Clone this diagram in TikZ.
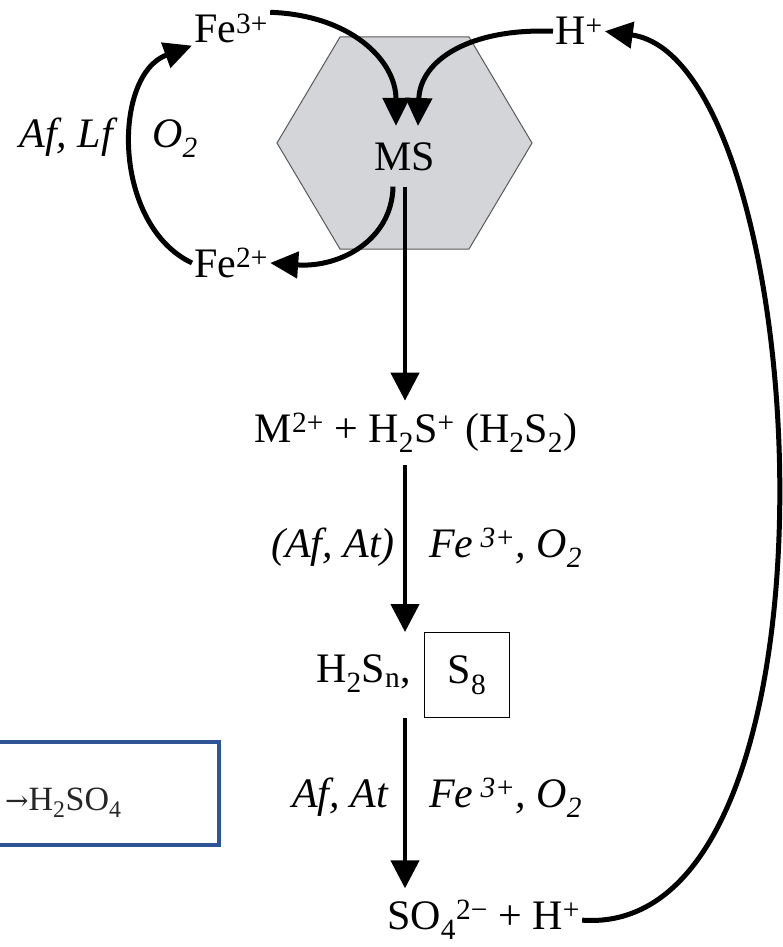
\documentclass[tikz,border=0pt]{standalone}
\usepackage{fontspec}
\setmainfont{Liberation Serif}
\newfontfamily\arrowfont{DejaVu Serif}
\usepackage{tikz}
\usetikzlibrary{arrows.meta}
\definecolor{grainGray}{HTML}{D3D5D8}
\definecolor{boxBlue}{HTML}{2F5597}

\begin{document}
\begin{tikzpicture}[x=1pt, y=-1pt,
    ion/.style={inner sep=2pt, font=\fontsize{42}{46}\selectfont},
    species/.style={ion, inner ysep=12pt},
    lbl/.style={inner sep=2pt, font=\fontsize{42}{46}\selectfont\itshape},
    flow/.style={line width=4.5pt, -{Triangle[length=28pt, width=28pt]}},
    cyc/.style={line width=5pt, -{Triangle[length=28pt, width=26pt]}}]
    \useasboundingbox (0,0) rectangle (783,947);
    % mineral grain
    \draw[fill=grainGray, draw=gray!70!black, line width=1pt]
        (277,143) -- (340,37) -- (469,37) -- (532,143) -- (469,249) -- (340,249) -- cycle;
    \node[ion, inner ysep=16pt, anchor=base] (ms) at (405,170) {MS};
    \node[ion, anchor=base west] (fe3) at (192,43) {Fe\textsuperscript{3+}};
    \node[ion, anchor=base west] (fe2) at (192,277) {Fe\textsuperscript{2+}};
    \node[ion, anchor=base west] (hp) at (553,45) {H\textsuperscript{+}};
    \node[lbl, anchor=base east] (cat1) at (115,147) {Af, Lf};
    \node[lbl, anchor=base west] (ox1) at (150,147) {O\textsubscript{2}};
    % sulfur chain
    \node[species, anchor=base] (m2) at (416,442)
        {M\textsuperscript{2+} + H\textsubscript{2}S\textsuperscript{+} (H\textsubscript{2}S\textsubscript{2})};
    \node[ion, anchor=base east] (h2sn) at (413,682) {H\textsubscript{2}S\textsubscript{n},};
    \node[ion, draw, line width=1pt, minimum size=85pt] (s8) at (467,675) {S\textsubscript{8}};
    \node[species, inner ysep=2pt, anchor=base west] (so4) at (385,929)
        {SO\textsubscript{4}\textsuperscript{2−} + H\textsuperscript{+}};
    \node[lbl, anchor=base east] (cat2) at (397,557) {(Af, At)};
    \node[lbl, anchor=base west] (ox2) at (427,557) {Fe\,\textsuperscript{3+}, O\textsubscript{2}};
    \node[lbl, anchor=base east] (cat3) at (390,807) {Af, At};
    \node[lbl, anchor=base west] (ox3) at (427,807) {Fe\,\textsuperscript{3+}, O\textsubscript{2}};
    % iron cycle and proton attack
    \draw[cyc] (fe3.north east) .. controls (350,15) and (396,60) .. ([xshift=-9pt]ms.north);
    \draw[cyc] (hp.west) .. controls (470,28) and (420,60) .. ([xshift=13pt]ms.north);
    \draw[cyc] ([xshift=-12pt]ms.south) .. controls (392,240) and (340,268) .. (fe2.east);
    \draw[cyc] (fe2.west) .. controls (112,225) and (112,75) .. (fe3.south west);
    % oxidation steps
    \draw[flow] (ms.south) -- (ms.south |- m2.north);
    \draw[flow] (ms |- m2.south) -- (ms |- s8.north);
    \draw[flow] (ms |- s8.south) -- ([yshift=10pt]ms |- so4.north);
    \draw[cyc] (so4.east) .. controls (860,940) and (815,60) .. (hp.east);
    % product box
    \draw[boxBlue, line width=4pt] (0,742) -- (219,742) -- (219,845) -- (0,845);
    \node[anchor=west, inner sep=2pt, text=black!85, font=\fontsize{34}{38}\selectfont] (acid) at (3,803)
        {{\arrowfont\fontsize{28}{30}\selectfont →}H\textsubscript{2}SO\textsubscript{4}};
\end{tikzpicture}
\end{document}
